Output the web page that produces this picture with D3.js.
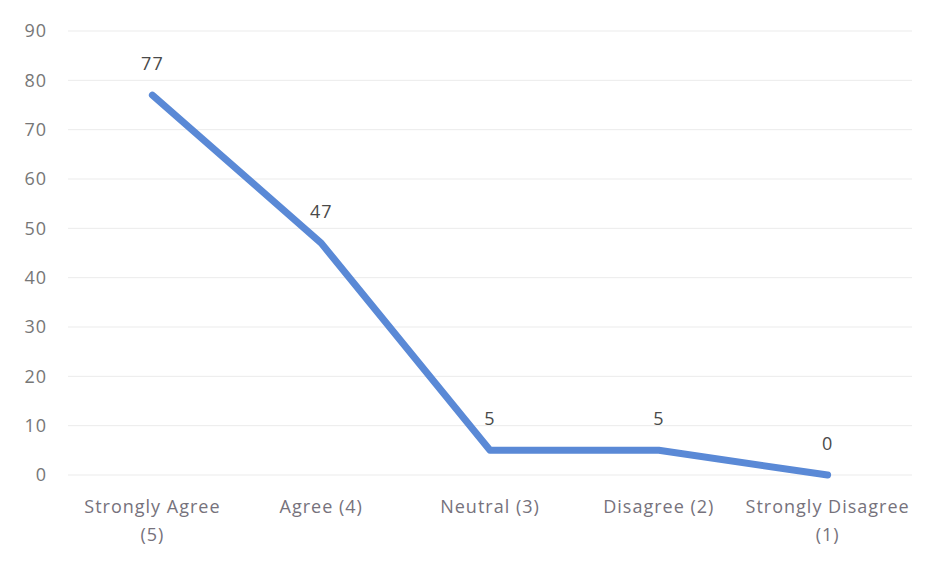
<!DOCTYPE html>
<html>
<head>
<meta charset="utf-8">
<script src="https://cdn.jsdelivr.net/npm/d3@7"></script>
<style>
  html, body { margin: 0; padding: 0; background: #fff; }
  svg { display: block; }
  text { font-family: "Open Sans", "Noto Sans", sans-serif; }
</style>
</head>
<body>
<svg id="chart" width="929" height="563"></svg>
<script>
const categories = [["Strongly Agree", "(5)"], ["Agree (4)"], ["Neutral (3)"], ["Disagree (2)"], ["Strongly Disagree", "(1)"]];
const values = [77, 47, 5, 5, 0];
const yTicks = [0, 10, 20, 30, 40, 50, 60, 70, 80, 90];

const W = 929, H = 563;
const margin = { left: 68, right: 17, top: 31, bottom: 88 };
const svg = d3.select("#chart");

const keys = categories.map(c => c.join(" "));
const x = d3.scaleBand().domain(keys).range([margin.left, W - margin.right]);
const y = d3.scaleLinear().domain([0, 90]).range([H - margin.bottom, margin.top]);

// gridlines
svg.append("g").selectAll("line").data(yTicks).join("line")
  .attr("x1", margin.left).attr("x2", W - margin.right)
  .attr("y1", d => y(d)).attr("y2", d => y(d))
  .attr("stroke", "#ebebeb").attr("stroke-width", 1);

// y axis
const yAxis = d3.axisLeft(y).tickValues(yTicks).tickSize(0).tickPadding(0);
const gy = svg.append("g").attr("transform", `translate(${margin.left - 21},0)`).call(yAxis);
gy.select(".domain").remove();
gy.selectAll("text").attr("font-size", 18).attr("fill", "#777777")
  .attr("letter-spacing", 1)
  .attr("font-family", "'Open Sans', sans-serif");

// x axis labels
const gx = svg.append("g");
categories.forEach((c, i) => {
  const t = gx.append("text")
    .attr("x", x(keys[i]) + x.bandwidth() / 2)
    .attr("y", y(0) + 38)
    .attr("text-anchor", "middle")
    .attr("letter-spacing", 1)
    .attr("font-size", 18).attr("fill", "#76727c");
  c.forEach((line, j) => {
    t.append("tspan").attr("x", x(keys[i]) + x.bandwidth() / 2)
      .attr("dy", j === 0 ? 0 : 28).text(line);
  });
});

// line
const line = d3.line()
  .x((d, i) => x(keys[i]) + x.bandwidth() / 2)
  .y(d => y(d));
svg.append("path").datum(values)
  .attr("d", line)
  .attr("fill", "none")
  .attr("stroke", "#5a89d6")
  .attr("stroke-width", 7)
  .attr("stroke-linejoin", "round")
  .attr("stroke-linecap", "round");

// data labels
svg.append("g").selectAll("text").data(values).join("text")
  .attr("x", (d, i) => x(keys[i]) + x.bandwidth() / 2)
  .attr("y", d => y(d) - 25)
  .attr("text-anchor", "middle")
  .attr("letter-spacing", 1)
  .attr("font-size", 18).attr("fill", "#4a4a4a")
  .text(d => d);
</script>
</body>
</html>
